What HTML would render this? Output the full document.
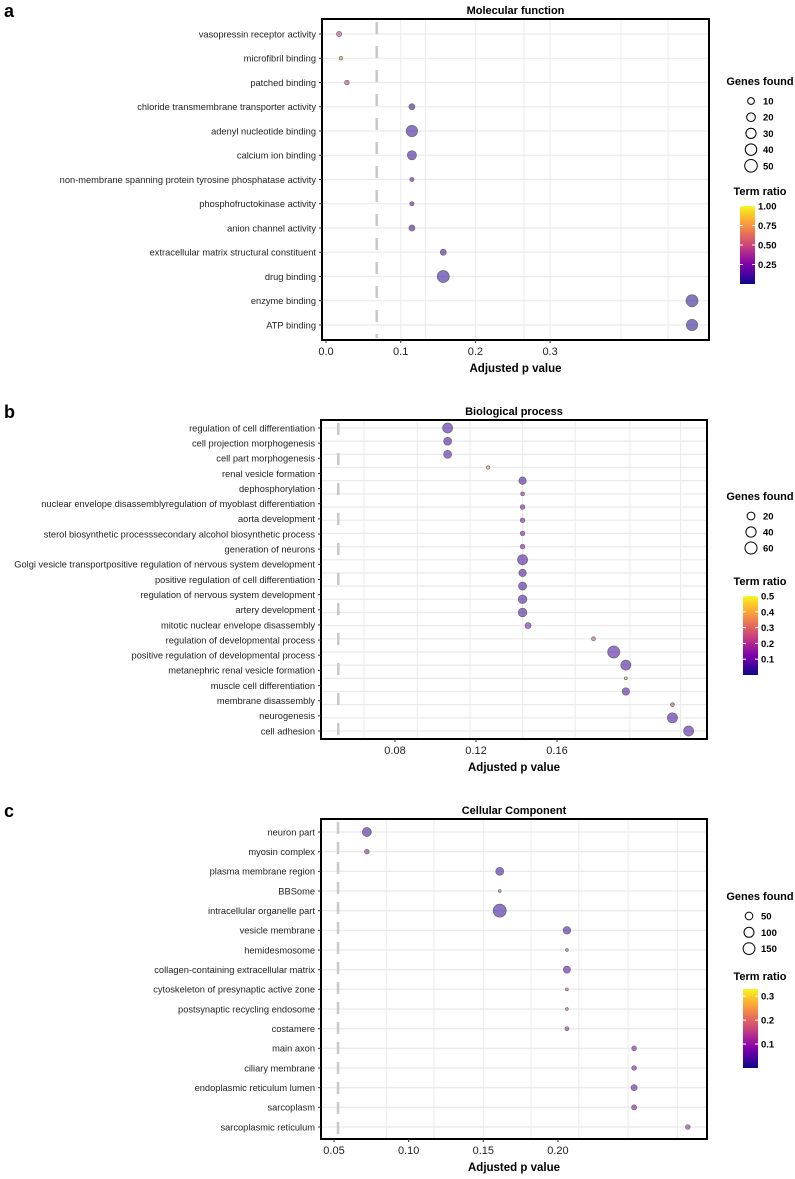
<!DOCTYPE html>
<html><head><meta charset="utf-8"><style>
body{margin:0;background:#fff;}
svg{display:block;font-family:"Liberation Sans",Arial,sans-serif;}
</style></head><body>
<svg id="fig" width="795" height="1179" viewBox="0 0 795 1179">
<defs>
<linearGradient id="plasma" x1="0" y1="1" x2="0" y2="0">
<stop offset="0" stop-color="#0d0887"/><stop offset="0.13" stop-color="#4c02a1"/><stop offset="0.25" stop-color="#7e03a8"/><stop offset="0.38" stop-color="#a82296"/><stop offset="0.5" stop-color="#cb4679"/><stop offset="0.63" stop-color="#e56b5d"/><stop offset="0.75" stop-color="#f89441"/><stop offset="0.88" stop-color="#fdc328"/><stop offset="1" stop-color="#f0f921"/>
</linearGradient>
</defs>
</svg>
<script>
// ---- Panel a data ----
const aLabels=["vasopressin receptor activity","microfibril binding","patched binding","chloride transmembrane transporter activity","adenyl nucleotide binding","calcium ion binding","non-membrane spanning protein tyrosine phosphatase activity","phosphofructokinase activity","anion channel activity","extracellular matrix structural constituent","drug binding","enzyme binding","ATP binding"];
const aP=[0.0175,0.02,0.028,0.115,0.115,0.115,0.115,0.115,0.115,0.157,0.157,0.49,0.49];
const aGenes=[4,1,3,7,39,22,2,2,7,7,44,44,39];
const aRatio=[0.45,0.8,0.45,0.08,0.06,0.07,0.15,0.15,0.08,0.08,0.05,0.04,0.04];
const aTicks=[0,0.1,0.2,0.3];
const aGrid=[0.1,0.133,0.2,0.265,0.3,0.395,0.458];
// ---- Panel b data ----
const bLabels=["regulation of cell differentiation","cell projection morphogenesis","cell part morphogenesis","renal vesicle formation","dephosphorylation","nuclear envelope disassemblyregulation of myoblast differentiation","aorta development","sterol biosynthetic processsecondary alcohol biosynthetic process","generation of neurons","Golgi vesicle transportpositive regulation of nervous system development","positive regulation of cell differentiation","regulation of nervous system development","artery development","mitotic nuclear envelope disassembly","regulation of developmental process","positive regulation of developmental process","metanephric renal vesicle formation","muscle cell differentiation","membrane disassembly","neurogenesis","cell adhesion"];
const bP=[0.106,0.106,0.106,0.126,0.143,0.143,0.143,0.143,0.143,0.143,0.143,0.143,0.143,0.143,0.143,0.1457,0.178,0.188,0.194,0.194,0.194,0.217,0.217,0.225];
const bGenes=[38,21,21,1,17,2,4,4,4,4,38,17,21,26,26,9,2,60,38,0.5,17,2,38,38];
const bRatio=[0.05,0.05,0.05,0.4,0.05,0.15,0.12,0.12,0.12,0.12,0.05,0.05,0.05,0.05,0.05,0.12,0.28,0.05,0.05,0.45,0.06,0.25,0.05,0.05];
const bTicks=[0.08,0.12,0.16];
const bGrid=[0.0647,0.091,0.117,0.143,0.169,0.196,0.221];
// ---- Panel c data ----
const cLabels=["neuron part","myosin complex","plasma membrane region","BBSome","intracellular organelle part","vesicle membrane","hemidesmosome","collagen-containing extracellular matrix","cytoskeleton of presynaptic active zone","postsynaptic recycling endosome","costamere","main axon","ciliary membrane","endoplasmic reticulum lumen","sarcoplasm","sarcoplasmic reticulum"];
const cP=[0.072,0.072,0.161,0.161,0.161,0.206,0.206,0.206,0.206,0.206,0.206,0.251,0.251,0.251,0.251,0.287];
const cGenes=[75,11,56,1,190,46,1,40,1,1,6,11,11,25,14,11];
const cRatio=[0.03,0.1,0.03,0.2,0.02,0.03,0.2,0.04,0.2,0.2,0.12,0.08,0.08,0.05,0.08,0.1];
const cTicks=[0.05,0.10,0.15,0.20];
const cGrid=[0.085,0.117,0.15,0.182,0.214,0.247,0.28];

const NS="http://www.w3.org/2000/svg";
const svg=document.getElementById('fig');
function mk(tag,attrs,parent){const e=document.createElementNS(NS,tag);for(const k in attrs)e.setAttribute(k,attrs[k]);(parent||svg).appendChild(e);return e;}
const pl=[[0,13,8,135],[0.13,76,2,161],[0.25,126,3,168],[0.38,168,34,150],[0.5,203,70,121],[0.63,229,107,93],[0.75,248,148,65],[0.88,253,195,40],[1,240,249,33]];
function plasma(t){t=Math.max(0,Math.min(1,t));for(let i=1;i<pl.length;i++){if(t<=pl[i][0]){const a=pl[i-1],b=pl[i],f=(t-a[0])/(b[0]-a[0]);return `rgb(${Math.round(a[1]+f*(b[1]-a[1]))},${Math.round(a[2]+f*(b[2]-a[2]))},${Math.round(a[3]+f*(b[3]-a[3]))})`;}}return 'rgb(240,249,33)';}

function panel(o){
  const g=mk('g',{});
  
  
  const x=v=>o.x0+(v-o.v0)*o.ppu;
  const rowY=i=>o.rTop+i*(o.rBot-o.rTop)/(o.n-1);
  const labY=i=>o.rTop+i*(o.rBot-o.rTop)/(o.labels.length-1);
  const rad=gn=>1+o.k*Math.sqrt(gn);
  const L=mk('text',{x:4,y:o.top-2,'font-size':18,'font-weight':'bold'},g);L.textContent=o.letter;
  
  const T=mk('text',{x:(o.L+o.R)/2,y:o.top-5,'font-size':11,'font-weight':'bold','text-anchor':'middle'},g);T.textContent=o.title;
  
  for(let i=0;i<o.n;i++){const l=mk('line',{x1:o.L,x2:o.R,y1:rowY(i),y2:rowY(i),stroke:'#ebebeb','stroke-width':1.3},g);}
  o.grid.forEach(v=>{const l=mk('line',{x1:x(v),x2:x(v),y1:o.top,y2:o.bot,stroke:'#ebebeb','stroke-width':1},g);});
  const d=mk('line',{x1:x(o.thr),x2:x(o.thr),y1:o.top+3,y2:o.bot-2,stroke:'#c8c8c8','stroke-width':2.5,'stroke-dasharray':o.dash},g);
  
  o.p.forEach((v,i)=>{const c=mk('circle',{cx:x(v),cy:rowY(i),r:rad(o.genes[i]),fill:plasma(o.ratio[i]/o.rmax),'fill-opacity':0.55,stroke:'#666','stroke-width':0.7},g);
    });
  const f=mk('rect',{x:o.L,y:o.top,width:o.R-o.L,height:o.bot-o.top,fill:'none',stroke:'#000','stroke-width':2},g);
  
  o.labels.forEach((s,i)=>{const t=mk('text',{x:o.L-6,y:labY(i)+3.3,'font-size':9.3,'text-anchor':'end',fill:'#222'},g);t.textContent=s;
    
    mk('line',{x1:o.L-3,x2:o.L,y1:labY(i),y2:labY(i),stroke:'#333'},g);});
  o.ticks.forEach(v=>{mk('line',{x1:x(v),x2:x(v),y1:o.bot,y2:o.bot+3,stroke:'#333'},g);
    const t=mk('text',{x:x(v),y:o.bot+15,'font-size':11,'text-anchor':'middle',fill:'#222'},g);t.textContent=o.fmt(v);
    });
  const xt=mk('text',{x:(o.L+o.R)/2,y:o.bot+32,'font-size':11.5,'font-weight':'bold','text-anchor':'middle'},g);xt.textContent='Adjusted p value';
  
  const gt=mk('text',{x:760,y:o.lgTop,'font-size':11,'font-weight':'bold','text-anchor':'middle'},g);gt.textContent='Genes found';
  
  o.sizeLeg.forEach((s,i)=>{const cy=o.lgTop+16+i*o.lgStep;
    const c=mk('circle',{cx:o.lgCx,cy:cy,r:rad(s),fill:'none',stroke:'#000','stroke-width':1},g);
    
    const t=mk('text',{x:o.lgCx+12,y:cy+3.5,'font-size':9.5,'font-weight':'bold'},g);t.textContent=s;
    });
  const ct=mk('text',{x:760,y:o.cbTitle,'font-size':11,'font-weight':'bold','text-anchor':'middle'},g);ct.textContent='Term ratio';
  
  const cb=mk('rect',{x:o.cbX,y:o.cbTop,width:15,height:o.cbBot-o.cbTop,fill:'url(#plasma)'},g);
  
  const cy=v=>o.cbBot-(v/o.rmax)*(o.cbBot-o.cbTop);
  o.cbTicks.forEach(v=>{const y=cy(v);
    mk('line',{x1:o.cbX,x2:o.cbX+3,y1:y,y2:y,stroke:'#fff','stroke-width':1},g);
    mk('line',{x1:o.cbX+12,x2:o.cbX+15,y1:y,y2:y,stroke:'#fff','stroke-width':1},g);
    const t=mk('text',{x:o.cbX+18,y:y+3.5,'font-size':9.5,'font-weight':'bold'},g);t.textContent=o.cbFmt(v);
    });
}
panel({name:'molecular-function-panel',letter:'a',title:'Molecular function',L:322,R:709,top:19,bot:340,rTop:34,rBot:325,n:13,
 v0:0,x0:326,ppu:747,thr:0.068,dash:'12 12',labels:aLabels,p:aP,genes:aGenes,ratio:aRatio,rmax:1,k:0.75,ticks:aTicks,grid:aGrid,fmt:v=>v.toFixed(1),
 lgTop:85,lgStep:16.2,lgCx:751,sizeLeg:[10,20,30,40,50],cbTitle:195,cbX:740,cbTop:206,cbBot:284,cbTicks:[0.25,0.5,0.75,1.0],cbFmt:v=>v.toFixed(2)});
panel({name:'biological-process-panel',letter:'b',title:'Biological process',L:321,R:707,top:420,bot:739,rTop:428,rBot:731,n:24,
 v0:0.08,x0:395,ppu:2025,thr:0.052,dash:'12 18',labels:bLabels,p:bP,genes:bGenes,ratio:bRatio,rmax:0.5,k:0.65,ticks:bTicks,grid:bGrid,fmt:v=>v.toFixed(2),
 lgTop:500,lgStep:16,lgCx:751,sizeLeg:[20,40,60],cbTitle:585,cbX:743,cbTop:596,cbBot:675,cbTicks:[0.1,0.2,0.3,0.4,0.5],cbFmt:v=>v.toFixed(1)});
panel({name:'cellular-component-panel',letter:'c',title:'Cellular Component',L:321,R:707,top:819,bot:1139,rTop:832,rBot:1127,n:16,
 v0:0.05,x0:334,ppu:1493,thr:0.0527,dash:'12 8',labels:cLabels,p:cP,genes:cGenes,ratio:cRatio,rmax:0.33,k:0.4,ticks:cTicks,grid:cGrid,fmt:v=>v.toFixed(2),
 lgTop:900,lgStep:16.3,lgCx:749,sizeLeg:[50,100,150],cbTitle:980,cbX:743,cbTop:989,cbBot:1068,cbTicks:[0.1,0.2,0.3],cbFmt:v=>v.toFixed(1)});
</script>
</body></html>
